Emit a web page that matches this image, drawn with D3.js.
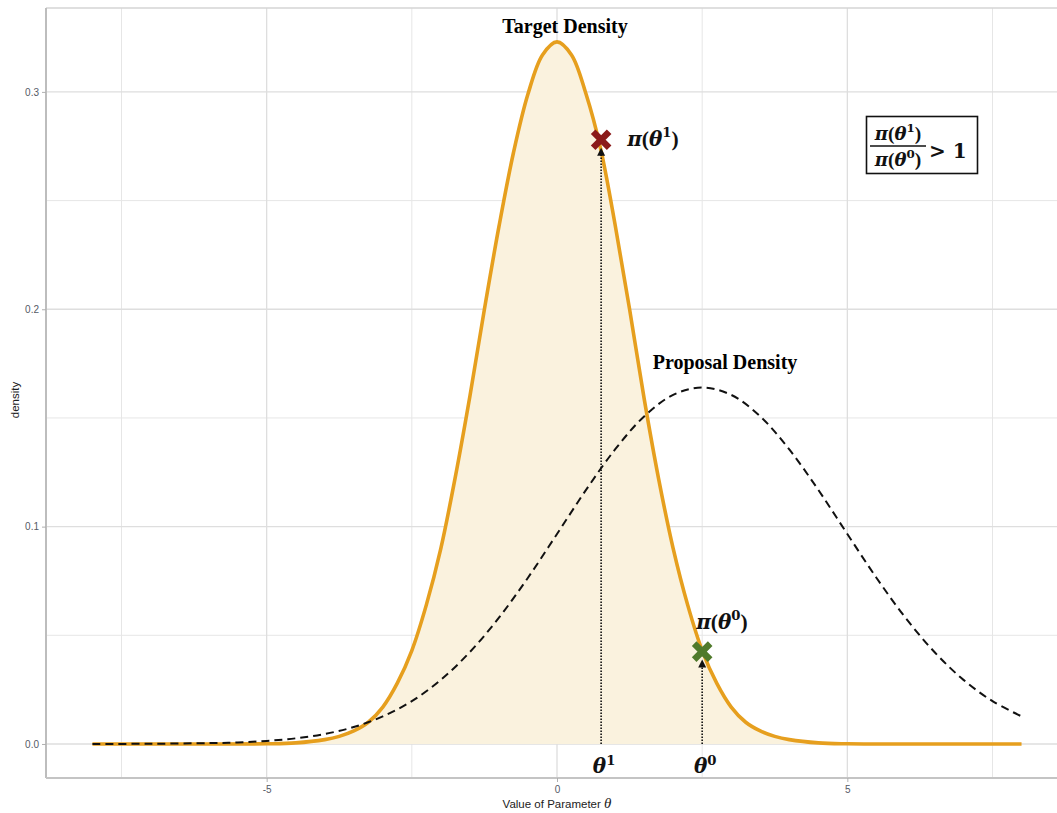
<!DOCTYPE html>
<html>
<head>
<meta charset="utf-8">
<script src="https://cdn.jsdelivr.net/npm/d3@7"></script>
<style>
  body { margin: 0; background: #fff; }
  svg { display: block; }
</style>
</head>
<body>
<svg id="chart" width="1057" height="813"></svg>
<script>
// values
var targetX = [-8, -7, -6, -5, -4.5, -4, -3.75, -3.5, -3.25, -3, -2.75, -2.5, -2.25, -2, -1.75, -1.5, -1.25, -1, -0.75, -0.5, -0.25,
               0, 0.25, 0.5, 0.75, 1, 1.25, 1.5, 1.75, 2, 2.25, 2.5, 2.75, 3, 3.25, 3.5, 3.75, 4, 4.5, 5, 6, 7, 8];
var targetY = [0, 0, 0, 0.0001, 0.0005, 0.002, 0.0035, 0.006, 0.010, 0.017, 0.028, 0.043, 0.064, 0.090, 0.123, 0.160, 0.200, 0.238, 0.272, 0.299, 0.317,
               0.323, 0.317, 0.299, 0.274, 0.239, 0.200, 0.159, 0.122, 0.090, 0.064, 0.043, 0.028, 0.017, 0.010, 0.006, 0.0035, 0.002, 0.0005, 0.0001, 0, 0, 0];

var proposalX = [-8, -7, -6, -5.5, -5, -4.5, -4, -3.5, -3, -2.5, -2, -1.5, -1, -0.5, 0, 0.5, 1, 1.5, 2,
                 2.5, 3, 3.5, 4, 4.5, 5, 5.5, 6, 6.5, 7, 7.5, 8];
var proposalY = [0.00001, 0.0001, 0.0004, 0.0007, 0.0014, 0.0026, 0.0046, 0.0078, 0.0127, 0.0197, 0.0295, 0.0423, 0.0581, 0.0765, 0.0966, 0.1169, 0.1355, 0.1507, 0.1606,
                 0.164, 0.1606, 0.1507, 0.1355, 0.1169, 0.0966, 0.0765, 0.0581, 0.0423, 0.0295, 0.0197, 0.0127];

var theta1 = 0.76, pi1 = 0.278;   // proposed point
var theta0 = 2.5, pi0 = 0.0425;   // current point

var xTicks = [-5, 0, 5];
var xMinor = [-7.5, -2.5, 2.5, 7.5];
var yTicks = [0, 0.1, 0.2, 0.3];
var yMinor = [0.05, 0.15, 0.25];

var svg = d3.select("#chart");
// panel edges (the right one falls outside the picture)
var pLeft = 46, pTop = 8, pBottom = 778, pRight = 1068;

var x = d3.scaleLinear().domain([-8.8, 8.8]).range([pLeft, pRight]);
var y = d3.scaleLinear().domain([-0.01565, 0.3386]).range([pBottom, pTop]);

var serif = "'Liberation Serif', 'Times New Roman', serif";
var mathFont = "'DejaVu Serif', serif";
var sans = "'Liberation Sans', Arial, sans-serif";

// grid
var grid = svg.append("g");
grid.selectAll(".xmin").data(xMinor).enter().append("line")
  .attr("x1", x).attr("x2", x).attr("y1", pTop).attr("y2", pBottom)
  .attr("stroke", "#e6e6e6").attr("stroke-width", 1);
grid.selectAll(".ymin").data(yMinor).enter().append("line")
  .attr("x1", pLeft).attr("x2", pRight).attr("y1", y).attr("y2", y)
  .attr("stroke", "#e6e6e6").attr("stroke-width", 1);
grid.selectAll(".xmaj").data(xTicks).enter().append("line")
  .attr("x1", x).attr("x2", x).attr("y1", pTop).attr("y2", pBottom)
  .attr("stroke", "#dedede").attr("stroke-width", 1.3);
grid.selectAll(".ymaj").data(yTicks).enter().append("line")
  .attr("x1", pLeft).attr("x2", pRight).attr("y1", y).attr("y2", y)
  .attr("stroke", "#dedede").attr("stroke-width", 1.3);

// panel border
svg.append("line").attr("x1", pLeft).attr("x2", pRight).attr("y1", pTop).attr("y2", pTop)
  .attr("stroke", "#d4d4d4").attr("stroke-width", 1.5);
svg.append("line").attr("x1", pLeft).attr("x2", pLeft).attr("y1", pTop).attr("y2", pBottom)
  .attr("stroke", "#bdbdbd").attr("stroke-width", 2);
svg.append("line").attr("x1", pLeft).attr("x2", pRight).attr("y1", pBottom).attr("y2", pBottom)
  .attr("stroke", "#c4c4c4").attr("stroke-width", 2);

// axes
var yAxis = svg.append("g").attr("transform", "translate(" + pLeft + ",0)")
  .call(d3.axisLeft(y).tickValues(yTicks).tickFormat(d3.format(".1f")).tickSize(4).tickPadding(3));
var xAxis = svg.append("g").attr("transform", "translate(0," + pBottom + ")")
  .call(d3.axisBottom(x).tickValues(xTicks).tickFormat(function(d) { return String(d); }).tickSize(4).tickPadding(4));
[yAxis, xAxis].forEach(function(a) {
  a.select(".domain").remove();
  a.selectAll(".tick line").attr("stroke", "#b0b0b0");
  a.selectAll(".tick text").attr("fill", "#555a66").style("font-family", sans).style("font-size", "10px");
});

// target density
var tData = targetX.map(function(d, i) { return [d, targetY[i]]; });
var pData = proposalX.map(function(d, i) { return [d, proposalY[i]]; });
var smooth = d3.curveCatmullRom.alpha(0.5);

svg.append("path").datum(tData)
  .attr("d", d3.area().x(function(d) { return x(d[0]); }).y0(y(0)).y1(function(d) { return y(d[1]); }).curve(smooth))
  .attr("fill", "#faf2de");

svg.append("path").datum(tData)
  .attr("d", d3.line().x(function(d) { return x(d[0]); }).y(function(d) { return y(d[1]); }).curve(smooth))
  .attr("fill", "none").attr("stroke", "#e69f1e").attr("stroke-width", 3.6);

// proposal density
svg.append("path").datum(pData)
  .attr("d", d3.line().x(function(d) { return x(d[0]); }).y(function(d) { return y(d[1]); }).curve(smooth))
  .attr("fill", "none").attr("stroke", "#111").attr("stroke-width", 2)
  .attr("stroke-dasharray", "8,5");

// dotted arrows from the axis up to each point
function arrow(tx, ty) {
  var px = x(tx), py = y(ty);
  svg.append("line").attr("x1", px).attr("x2", px).attr("y1", y(0)).attr("y2", py + 14)
    .attr("stroke", "#111").attr("stroke-width", 1.6).attr("stroke-dasharray", "1.6,1.4");
  svg.append("path")
    .attr("d", "M" + (px - 4) + "," + (py + 16) + "L" + px + "," + (py + 8) + "L" + (px + 4) + "," + (py + 16) + "Z")
    .attr("fill", "#111");
}
arrow(theta1, pi1);
arrow(theta0, pi0);

// X shaped markers
function cross(tx, ty, col) {
  var px = x(tx), py = y(ty), s = 8;
  svg.append("path")
    .attr("d", "M" + (px - s) + "," + (py - s) + "L" + (px + s) + "," + (py + s) +
               "M" + (px - s) + "," + (py + s) + "L" + (px + s) + "," + (py - s))
    .attr("stroke", col).attr("stroke-width", 6.5).attr("fill", "none");
}
cross(theta1, pi1, "#8b1a1a");
cross(theta0, pi0, "#4f7a2b");

// pi(theta^k) style label
function piText(g, px, py, sup, size, anchor) {
  var t = g.append("text").attr("x", px).attr("y", py)
    .attr("text-anchor", anchor || "start")
    .style("font-family", mathFont).style("font-weight", "bold").style("font-size", size + "px").attr("fill", "#111");
  t.append("tspan").style("font-style", "italic").text("π");
  t.append("tspan").style("font-family", serif).style("font-size", (size * 1.08) + "px").text("(");
  t.append("tspan").style("font-style", "italic").text("θ");
  t.append("tspan").attr("dy", -size * 0.42).style("font-size", (size * 0.66) + "px").text(sup);
  t.append("tspan").attr("dy", size * 0.42).style("font-family", serif).style("font-size", (size * 1.08) + "px").text(")");
  return t;
}
function thetaText(px, py, sup, size) {
  var t = svg.append("text").attr("x", px).attr("y", py).attr("text-anchor", "middle")
    .style("font-family", mathFont).style("font-weight", "bold").style("font-size", size + "px").attr("fill", "#111");
  t.append("tspan").style("font-style", "italic").text("θ");
  t.append("tspan").attr("dy", -size * 0.42).style("font-size", (size * 0.66) + "px").text(sup);
}

piText(svg, x(theta1) + 26, y(pi1) + 6, "1", 20);
piText(svg, x(theta0) - 6, y(pi0) - 23, "0", 20);
thetaText(x(theta1) + 3, 773, "1", 20);
thetaText(x(theta0) + 3, 773, "0", 20);

// titles on the curves
svg.append("text").attr("x", 565).attr("y", 33).attr("text-anchor", "middle")
  .style("font-family", serif).style("font-weight", "bold").style("font-size", "20px").text("Target Density");
svg.append("text").attr("x", 725).attr("y", 369).attr("text-anchor", "middle")
  .style("font-family", serif).style("font-weight", "bold").style("font-size", "20px").text("Proposal Density");

// ratio box
var box = svg.append("g");
box.append("rect").attr("x", 866.5).attr("y", 116.5).attr("width", 111).attr("height", 57)
  .attr("fill", "#fff").attr("stroke", "#111").attr("stroke-width", 1.6);
piText(box, 898, 140, "1", 18, "middle");
box.append("line").attr("x1", 870).attr("x2", 926).attr("y1", 146).attr("y2", 146)
  .attr("stroke", "#111").attr("stroke-width", 1.6);
piText(box, 898, 166, "0", 18, "middle");
box.append("text").attr("x", 929).attr("y", 158)
  .style("font-family", mathFont).style("font-weight", "bold").style("font-size", "20px").attr("fill", "#111")
  .text("> 1");

// axis titles
svg.append("text").attr("transform", "translate(19,400) rotate(-90)").attr("text-anchor", "middle")
  .style("font-family", sans).style("font-size", "11.5px").attr("fill", "#222").text("density");
var xt = svg.append("text").attr("x", 557).attr("y", 808).attr("text-anchor", "middle")
  .style("font-family", sans).style("font-size", "11.5px").attr("fill", "#222");
xt.append("tspan").text("Value of Parameter ");
xt.append("tspan").style("font-family", serif).style("font-style", "italic").style("font-size", "15px").text("θ");
</script>
</body>
</html>
